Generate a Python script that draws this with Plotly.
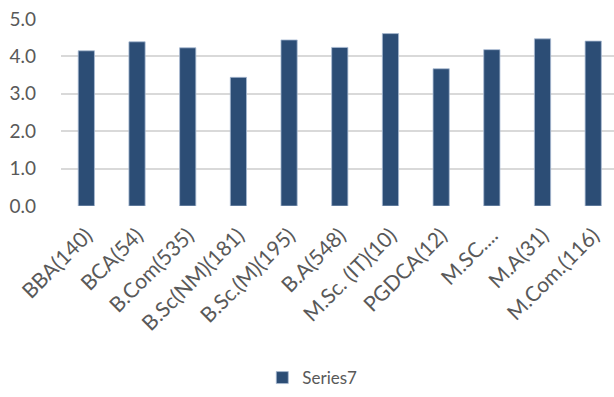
import plotly.graph_objects as go

categories = ["BBA(140)", "BCA(54)", "B.Com(535)", "B.Sc(NM)(181)", "B.Sc.(M)(195)",
              "B.A(548)", "M.Sc. (IT)(10)", "PGDCA(12)", "M.SC....", "M.A(31)", "M.Com.(116)"]
values = [4.15, 4.39, 4.23, 3.44, 4.44, 4.24, 4.61, 3.67, 4.18, 4.47, 4.41]
series_name = "Series7"
y_ticks = [0, 1, 2, 3, 4, 5]
y_tick_labels = ["0.0", "1.0", "2.0", "3.0", "4.0", "5.0"]

fig = go.Figure()
fig.add_trace(go.Bar(
    x=list(range(len(categories))), y=values, name=series_name,
    width=0.32,
    marker=dict(color="#2c4d75", line=dict(color="#a9bbd3", width=0.8)),
    showlegend=True,
))

font_fam = "Lato, Open Sans, sans-serif"
fig.update_layout(
    width=614, height=397,
    margin=dict(l=61, r=0, t=19, b=187),
    paper_bgcolor="white", plot_bgcolor="white",
    font=dict(family=font_fam, size=16, color="#595959"),
    showlegend=True,
    legend=dict(orientation="h", x=0.364, xanchor="left", y=-0.92, yanchor="middle",
                font=dict(size=17, color="#595959")),
    xaxis=dict(
        tickmode="array", tickvals=list(range(len(categories))), ticktext=categories,
        tickangle=-45, range=[-0.5, 10.41], showgrid=False, zeroline=False,
        showline=False, ticks="", tickfont=dict(size=21, color="#595959"),
        ticklabelstandoff=12, automargin=False,
    ),
    yaxis=dict(
        range=[0, 5], tickmode="array", tickvals=y_ticks, ticktext=y_tick_labels,
        showgrid=True, gridcolor="#d9d9d9", gridwidth=1.5, zeroline=False,
        showline=False, ticks="", ticklabelstandoff=24, automargin=False,
        tickfont=dict(size=19, color="#595959"),
    ),
)

fig.write_html("out.html")
